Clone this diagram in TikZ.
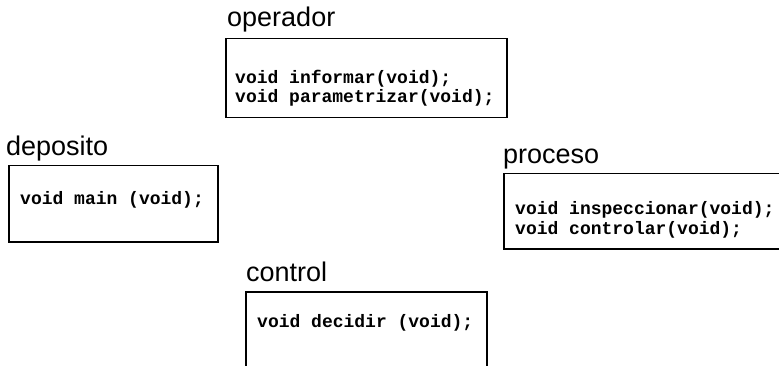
\documentclass[tikz,border=0pt]{standalone}
\usepackage{fontspec}
\setmainfont{Liberation Sans}
\setmonofont{Liberation Mono}
\usetikzlibrary{positioning}

\begin{document}
\begin{tikzpicture}[x=1pt,y=-1pt]
  \tikzstyle{every node}=[inner sep=0pt]
  \tikzstyle{modulo}=[draw=black,line width=1.5pt,rectangle,anchor=north west]
  \tikzstyle{titulo}=[anchor=base west,font=\fontsize{27}{27}\selectfont]
  \tikzstyle{codigo}=[anchor=west,align=left,font=\ttfamily\bfseries\fontsize{18}{19.5}\selectfont]

  \useasboundingbox (0,0) rectangle (779,366);
  \clip (0,0) rectangle (779,366);

  % modulos
  \node [modulo,minimum width=281pt,minimum height=79pt] (operador) at (225,38) {};
  \node [modulo,minimum width=209pt,minimum height=76pt] (deposito) at (8,165) {};
  \node [modulo,minimum width=290pt,minimum height=75pt] (proceso) at (503,173) {};
  \node [modulo,minimum width=241pt,minimum height=80pt] (control) at (245,291) {};

  % nombres
  \node [titulo] (nOperador) at (227,27) {operador};
  \node [titulo] (nDeposito) at (6,156) {deposito};
  \node [titulo] (nProceso) at (503,164) {proceso};
  \node [titulo] (nControl) at (246,281) {control};

  % funciones
  \node [codigo] (fOperador) at (235,88) {void informar(void);\\void parametrizar(void);};
  \node [codigo] (fDeposito) at (20,200) {void main (void);};
  \node [codigo] (fProceso) at (515,220) {void inspeccionar(void);\\void controlar(void);};
  \node [codigo] (fControl) at (257,323) {void decidir (void);};
\end{tikzpicture}
\end{document}
